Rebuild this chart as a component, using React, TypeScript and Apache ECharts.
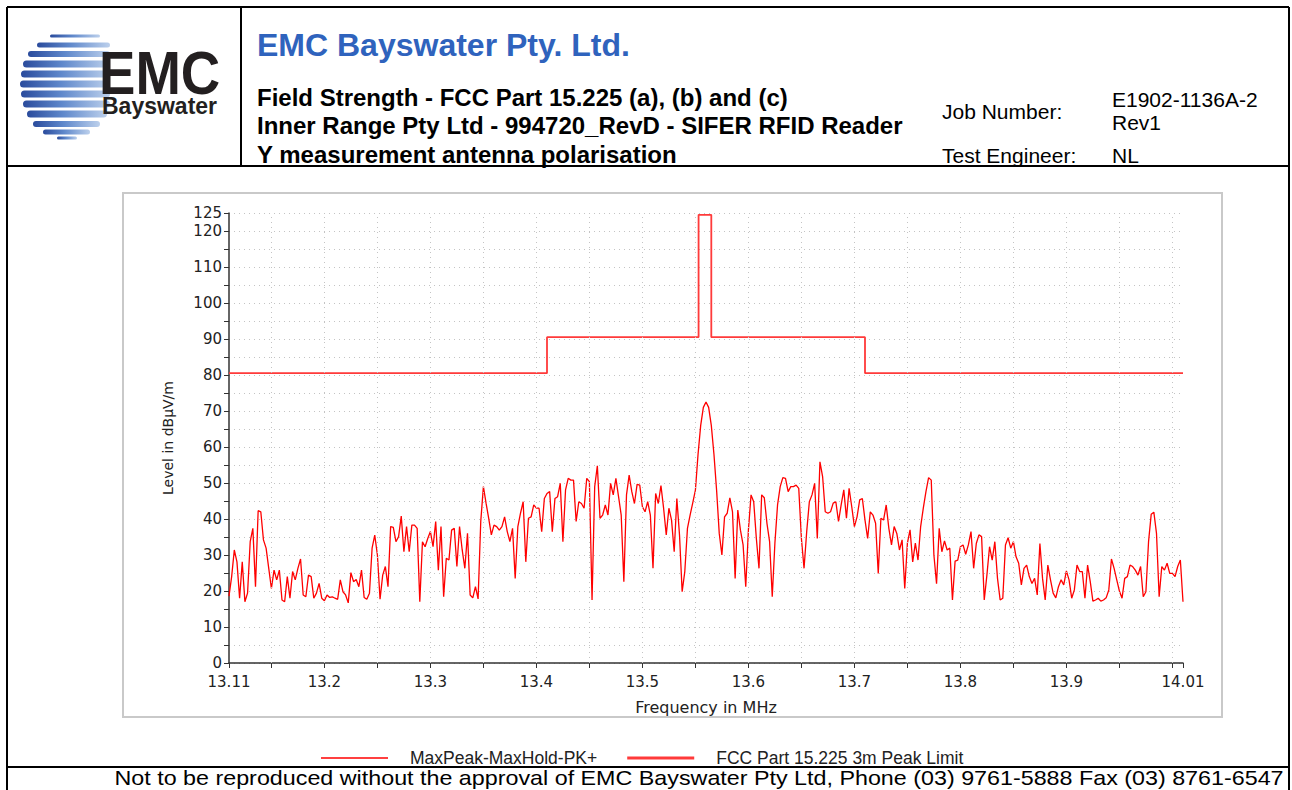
import React, { useEffect, useRef } from 'react';
import * as echarts from 'echarts';

// ---- Data -----------------------------------------------------------------
const START_FREQ = 13.11; // MHz, first sweep point
const FREQ_STEP = 0.0025; // MHz between sweep points

// MaxPeak-MaxHold-PK+ trace, dBµV/m
const maxPeakLevels = [
  18.6, 24.0, 31.4, 28.1, 18.0, 28.1, 17.0, 19.4, 33.7, 37.4,
  21.2, 42.3, 42.0, 34.2, 31.9, 26.3, 20.7, 25.8, 23.1, 25.8,
  17.5, 17.0, 24.0, 18.0, 25.4, 23.1, 26.3, 28.9, 18.9, 18.4,
  24.4, 24.0, 18.0, 19.4, 22.1, 18.0, 17.3, 18.9, 18.2, 18.4,
  18.0, 17.7, 23.1, 19.8, 18.9, 16.7, 25.1, 22.6, 23.2, 21.2,
  25.8, 18.2, 17.7, 19.4, 31.9, 35.5, 30.0, 17.7, 24.4, 26.8,
  21.2, 37.9, 37.7, 33.7, 35.1, 40.8, 30.9, 37.9, 30.9, 38.3,
  38.3, 37.4, 17.0, 33.7, 32.3, 34.6, 36.5, 32.3, 39.3, 25.8,
  37.9, 18.4, 29.1, 28.6, 36.9, 37.4, 26.8, 37.9, 31.4, 26.3,
  36.0, 18.9, 18.1, 21.2, 17.8, 39.3, 49.0, 44.4, 40.2, 35.6,
  38.3, 37.9, 36.9, 37.9, 40.6, 36.5, 33.7, 37.4, 23.5, 37.9,
  41.6, 44.8, 28.1, 40.2, 40.6, 43.9, 43.0, 43.0, 36.5, 45.7,
  47.1, 47.6, 36.5, 45.7, 46.2, 49.9, 33.7, 48.1, 51.3, 50.8,
  50.8, 39.3, 44.8, 44.3, 43.0, 51.3, 50.4, 17.5, 49.0, 54.8,
  40.2, 41.1, 43.9, 41.1, 49.9, 46.7, 51.3, 46.2, 41.1, 22.6,
  46.7, 52.2, 47.6, 44.3, 49.6, 49.4, 43.4, 42.0, 44.8, 41.1,
  26.3, 47.1, 44.3, 49.3, 43.0, 35.6, 43.0, 39.7, 30.9, 45.7,
  35.6, 19.8, 25.4, 37.4, 41.1, 44.5, 48.0, 58.0, 66.0, 71.0,
  72.5, 71.0, 66.0, 58.0, 48.0, 36.0, 30.0, 40.6, 41.6, 45.9,
  42.0, 23.5, 42.5, 36.9, 32.8, 21.2, 36.9, 46.7, 44.8, 34.6,
  26.3, 46.7, 45.9, 38.8, 33.7, 18.4, 33.3, 43.9, 49.0, 51.5,
  51.3, 47.6, 49.0, 49.0, 49.4, 48.5, 34.6, 26.3, 36.5, 44.8,
  46.7, 49.9, 34.6, 55.9, 51.8, 42.0, 41.6, 42.0, 44.4, 44.8,
  39.3, 43.9, 48.1, 40.2, 48.5, 43.4, 37.9, 40.6, 45.3, 45.7,
  39.7, 34.6, 42.0, 41.1, 38.8, 24.9, 40.2, 39.7, 43.9, 37.4,
  32.8, 37.9, 36.0, 31.4, 34.2, 20.7, 33.3, 37.0, 28.1, 33.3,
  28.6, 37.9, 43.0, 47.6, 51.5, 50.8, 30.0, 22.0, 37.4, 30.9,
  33.9, 31.4, 31.9, 17.5, 28.3, 28.6, 32.3, 32.8, 30.2, 32.8,
  36.5, 26.3, 33.2, 35.6, 35.1, 17.5, 24.4, 32.3, 28.6, 33.7,
  23.5, 17.5, 18.0, 32.8, 34.8, 31.9, 33.7, 29.5, 27.7, 21.7,
  26.3, 27.2, 24.0, 22.1, 23.5, 18.9, 33.2, 23.5, 17.5, 27.2,
  23.1, 19.4, 18.1, 21.2, 23.1, 21.7, 25.6, 23.1, 18.0, 20.3,
  27.2, 25.4, 25.4, 18.0, 27.2, 22.6, 17.2, 17.5, 18.0, 17.2,
  17.5, 18.1, 20.3, 28.9, 26.3, 23.1, 20.0, 18.0, 23.5, 24.0,
  27.2, 26.8, 25.8, 24.4, 26.8, 18.4, 19.8, 33.7, 41.3, 41.9,
  36.0, 18.4, 26.8, 25.8, 27.7, 24.9, 24.9, 24.0, 26.8, 28.6,
  17.0,
];

// FCC Part 15.225 3m peak limit (step corners)
const limitFreqs = [13.11, 13.41, 13.41, 13.553, 13.553, 13.565, 13.565, 13.71, 13.71, 14.01];
const limitLevels = [80.5, 80.5, 90.5, 90.5, 124.5, 124.5, 90.5, 90.5, 80.5, 80.5];

// Axis ticks / labels
const xLabelValues = [13.11, 13.2, 13.3, 13.4, 13.5, 13.6, 13.7, 13.8, 13.9, 14.01];
const xTickValues = [13.11, 13.15, 13.2, 13.25, 13.3, 13.35, 13.4, 13.45, 13.5, 13.55, 13.6, 13.65, 13.7, 13.75, 13.8, 13.85, 13.9, 13.95, 14.0, 14.01];
const xGridValues = [13.15, 13.2, 13.25, 13.3, 13.35, 13.4, 13.45, 13.5, 13.55, 13.6, 13.65, 13.7, 13.75, 13.8, 13.85, 13.9, 13.95, 14.0];
const yLabelValues = [0, 10, 20, 30, 40, 50, 60, 70, 80, 90, 100, 110, 120, 125];

const TRACE_NAME = 'MaxPeak-MaxHold-PK+';
const LIMIT_NAME = 'FCC Part 15.225 3m Peak Limit';

// ---- Decoration (logo stripes: y centre, x start, x end, thickness) --------
const logoStripes = [
  [36, 50, 100, 3], [45, 37, 110, 5], [54, 28, 110, 6], [64, 23, 110, 7],
  [74, 21, 110, 7], [84, 20, 110, 7], [94, 21, 110, 7], [104, 23, 110, 7],
  [114, 27, 107, 7], [124, 33, 100, 6], [132, 43, 90, 5], [138, 57, 77, 3],
];

const SANS = '"Liberation Sans", Arial, Helvetica, sans-serif';
const AXISFONT = '"DejaVu Sans", "Liberation Sans", sans-serif';

function txt(text: string, x: number, y: number, size: number, opts: any = {}) {
  return {
    type: 'text',
    x,
    y,
    scaleX: opts.scaleX ?? 1,
    silent: true,
    style: {
      text,
      x: 0,
      y: 0,
      fill: opts.color ?? '#000',
      fontSize: size,
      fontWeight: opts.bold ? 'bold' : 'normal',
      fontFamily: SANS,
      align: opts.align ?? 'left',
      textAlign: opts.align ?? 'left',
      verticalAlign: 'middle',
      textVerticalAlign: 'middle',
    },
  };
}

function ln(x1: number, y1: number, x2: number, y2: number, w = 2, color = '#000') {
  return {
    type: 'line',
    silent: true,
    shape: { x1, y1, x2, y2 },
    style: { stroke: color, lineWidth: w },
  };
}

export default function App() {
  const ref = useRef<HTMLDivElement>(null);

  useEffect(() => {
    if (!ref.current) return;
    document.body.style.margin = '0';
    const chart = echarts.init(ref.current, undefined, { renderer: 'svg' });

    const traceData = maxPeakLevels.map((v, i) => [START_FREQ + FREQ_STEP * i, v]);
    const limitData = limitFreqs.map((f, i) => [f, limitLevels[i]]);
    const fmtX = (v: number) => String(Number(v.toFixed(2)));

    const stripeEls = logoStripes.map(([yc, x1, x2, h]) => ({
      type: 'rect',
      silent: true,
      shape: { x: x1, y: yc - h / 2, width: x2 - x1, height: h, r: h / 2 },
      style: {
        fill: {
          type: 'linear', x: 0, y: 0, x2: 1, y2: 0,
          colorStops: [
            { offset: 0, color: '#2a4b9c' },
            { offset: 0.45, color: '#5f88cb' },
            { offset: 1, color: '#bcd0ec' },
          ],
        },
      },
    }));

    const graphics: any[] = [
      // chart frame
      {
        type: 'rect', silent: true, z: -1,
        shape: { x: 123, y: 193, width: 1099, height: 524 },
        style: { fill: '#fff', stroke: '#c9c9c9', lineWidth: 2 },
      },
      // page/table borders
      ln(7, 7, 1289, 7),
      ln(7, 7, 7, 790),
      ln(1289, 7, 1289, 790),
      ln(7, 166, 1289, 166),
      ln(241, 7, 241, 166),
      ln(7, 767, 1289, 767),
      // logo
      ...stripeEls,
      txt('EMC', 99, 72, 62, { bold: true, color: '#231f20', scaleX: 0.88 }),
      txt('Bayswater', 102, 106, 23, { bold: true, color: '#231f20' }),
      // header texts
      txt('EMC Bayswater Pty. Ltd.', 257, 45, 32, { bold: true, color: '#2f63bd' }),
      txt('Field Strength - FCC Part 15.225 (a), (b) and (c)', 257, 97, 24, { bold: true }),
      txt('Inner Range Pty Ltd - 994720_RevD - SIFER RFID Reader', 257, 125, 24, { bold: true }),
      txt('Y measurement antenna polarisation', 257, 154, 24, { bold: true }),
      txt('Job Number:', 942, 111, 21),
      txt('E1902-1136A-2', 1112, 99, 21),
      txt('Rev1', 1112, 122, 21),
      txt('Test Engineer:', 942, 155, 21),
      txt('NL', 1112, 155, 21),
      // footer
      txt('Not to be reproduced without the approval of EMC Bayswater Pty Ltd, Phone (03) 9761-5888 Fax (03) 8761-6547', 699, 778, 20, { align: 'center', scaleX: 1.165 }),
    ];

    const option: any = {
      animation: false,
      backgroundColor: '#ffffff',
      textStyle: { fontFamily: SANS },
      grid: { left: 229, right: 109, top: 213, bottom: 127, containLabel: false, outerBoundsMode: 'none' },
      legend: {
        data: [
          { name: TRACE_NAME, icon: 'path://M0,0H67V1.3H0Z' },
          { name: LIMIT_NAME, icon: 'path://M0,0H67V3H0Z' },
        ],
        symbolKeepAspect: true,
        left: 316,
        top: 744,
        itemWidth: 67,
        itemHeight: 14,
        itemGap: 30,
        selectedMode: false,
        textStyle: { fontSize: 17.5, fontFamily: SANS, color: '#222', padding: [0, 0, 0, 17] },
      },
      xAxis: {
        type: 'value',
        min: 13.11,
        max: 14.01,
        name: 'Frequency in MHz',
        nameLocation: 'middle',
        nameGap: 36,
        nameTextStyle: { fontSize: 16, fontFamily: AXISFONT, color: '#222' },
        axisLine: { show: true, onZero: false, lineStyle: { color: '#333', width: 1.5 } },
        axisTick: { show: true, customValues: xTickValues, length: 5, lineStyle: { color: '#333' } },
        axisLabel: {
          customValues: xLabelValues,
          formatter: (v: number) => fmtX(v),
          fontSize: 15,
          fontFamily: AXISFONT,
          color: '#222',
          margin: 11,
        },
        splitLine: { show: false },
      },
      yAxis: {
        type: 'value',
        min: 0,
        max: 125,
        interval: 5,
        name: 'Level in dBµV/m',
        nameLocation: 'middle',
        nameGap: 54,
        nameRotate: 90,
        nameTextStyle: { fontSize: 14, fontFamily: AXISFONT, color: '#222' },
        axisLine: { show: true, onZero: false, lineStyle: { color: '#333', width: 1.5 } },
        axisTick: { show: true, length: 5, lineStyle: { color: '#333' } },
        axisLabel: {
          formatter: (v: number) => (yLabelValues.includes(v) ? String(v) : ''),
          fontSize: 15,
          fontFamily: AXISFONT,
          color: '#222',
          margin: 7,
        },
        splitLine: { show: true, lineStyle: { type: [1, 4], color: '#c4c4c4', width: 1 } },
      },
      series: [
        {
          name: LIMIT_NAME,
          type: 'line',
          data: limitData,
          z: 3,
          symbol: 'none',
          showSymbol: false,
          color: '#ff3a3a',
          lineStyle: { color: '#ff3a3a', width: 1.8 },
          markLine: {
            silent: true,
            symbol: ['none', 'none'],
            label: { show: false },
            lineStyle: { type: [1, 4], color: '#c4c4c4', width: 1 },
            data: xGridValues.map((v) => ({ xAxis: v })),
          },
        },
        {
          name: TRACE_NAME,
          type: 'line',
          data: traceData,
          z: 4,
          symbol: 'none',
          showSymbol: false,
          color: '#ff0000',
          lineStyle: { color: '#ff0000', width: 1.3 },
        },
      ],
      graphic: { elements: graphics },
    };

    chart.setOption(option);
    return () => chart.dispose();
  }, []);

  return (
    <div
      ref={ref}
      style={{ position: 'absolute', left: 0, top: 0, width: 1292, height: 790, background: '#fff' }}
    />
  );
}
